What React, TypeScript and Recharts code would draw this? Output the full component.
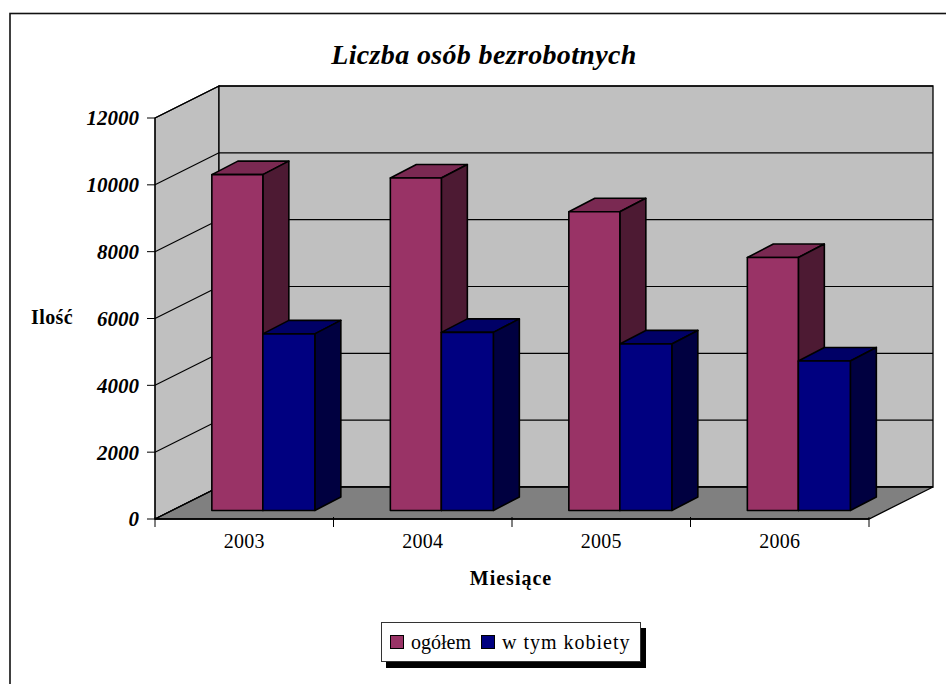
import { BarChart, Bar, XAxis, YAxis, CartesianGrid, Legend } from "recharts";

const years = ["2003", "2004", "2005", "2006"];
const totalValues = [10050, 9950, 8940, 7570];
const womenValues = [5285, 5330, 4985, 4475];
const yTicks = [0, 2000, 4000, 6000, 8000, 10000, 12000];

const chartData = years.map((year, i) => ({
  year,
  total: totalValues[i],
  women: womenValues[i],
}));

const serif = "'Liberation Serif', 'Times New Roman', serif";

// depth of the back wall and of the bars, and how far bars sit from the front edge
const WALL_DX = 64;
const WALL_DY = 32;
const BAR_DX = 26;
const BAR_DY = 13.5;
const BAR_OFFSET_X = 19;
const BAR_OFFSET_Y = 8.5;

function WallShapes(props: any) {
  const { x, y, width, height, index } = props;
  if (index !== 0) return <g />;
  const bottom = y + height;
  const right = x + width;
  const pts = (list: number[][]) => list.map((p) => p.join(",")).join(" ");
  return (
    <g stroke="#000" strokeWidth={1.3}>
      <polygon
        fill="#C0C0C0"
        points={pts([
          [x, y],
          [x + WALL_DX, y - WALL_DY],
          [x + WALL_DX, bottom - WALL_DY],
          [x, bottom],
        ])}
      />
      <polygon
        fill="#C0C0C0"
        points={pts([
          [x + WALL_DX, y - WALL_DY],
          [right + WALL_DX, y - WALL_DY],
          [right + WALL_DX, bottom - WALL_DY],
          [x + WALL_DX, bottom - WALL_DY],
        ])}
      />
      <polygon
        fill="#808080"
        points={pts([
          [x, bottom],
          [x + WALL_DX, bottom - WALL_DY],
          [right + WALL_DX, bottom - WALL_DY],
          [right, bottom],
        ])}
      />
    </g>
  );
}

function WallGridLine(props: any) {
  const { x1, x2, y1 } = props;
  return (
    <g stroke="#000" strokeWidth={1.1}>
      <line x1={x1} y1={y1} x2={x1 + WALL_DX} y2={y1 - WALL_DY} />
      <line x1={x1 + WALL_DX} y1={y1 - WALL_DY} x2={x2 + WALL_DX} y2={y1 - WALL_DY} />
    </g>
  );
}

function Bar3D(props: any) {
  const { x, y, width, height, fill, topFill, sideFill, extraWidth = 0 } = props;
  const left = x + BAR_OFFSET_X;
  const top = y - BAR_OFFSET_Y;
  const right = left + width + extraWidth;
  const bottom = top + height;
  return (
    <g stroke="#000" strokeWidth={1.6} strokeLinejoin="round">
      <polygon
        fill={topFill}
        points={`${left},${top} ${left + BAR_DX},${top - BAR_DY} ${right + BAR_DX},${top - BAR_DY} ${right},${top}`}
      />
      <polygon
        fill={sideFill}
        points={`${right},${top} ${right + BAR_DX},${top - BAR_DY} ${right + BAR_DX},${bottom - BAR_DY} ${right},${bottom}`}
      />
      <rect x={left} y={top} width={right - left} height={height} fill={fill} />
    </g>
  );
}

function YearTick(props: any) {
  const { x, y, payload, index } = props;
  const band = 178.5;
  return (
    <g>
      <line x1={x - band / 2} y1={y - 10} x2={x - band / 2} y2={y} stroke="#000" strokeWidth={1} />
      {index === years.length - 1 && (
        <line x1={x + band / 2} y1={y - 10} x2={x + band / 2} y2={y} stroke="#000" strokeWidth={1} />
      )}
      <text
        x={x}
        y={y + 21}
        textAnchor="middle"
        fontFamily={serif}
        fontSize={20}
        letterSpacing={0.3}
        fill="#000"
      >
        {payload.value}
      </text>
    </g>
  );
}

function LegendBox({ payload }: any) {
  return (
    <div
      style={{
        boxSizing: "border-box",
        width: 260,
        height: 40,
        background: "#fff",
        border: "1px solid #333",
        boxShadow: "5px 6px 0 #000",
        display: "flex",
        alignItems: "center",
        paddingLeft: 8,
        fontFamily: serif,
        fontSize: 20,
        color: "#000",
      }}
    >
      {(payload || []).map((entry: any, i: number) => (
        <span key={entry.value} style={{ display: "flex", alignItems: "center", marginLeft: i ? 10 : 0 }}>
          <span
            style={{
              display: "inline-block",
              boxSizing: "border-box",
              width: 14,
              height: 14,
              background: entry.color,
              border: "1px solid #000",
              marginRight: 7,
            }}
          />
          <span style={{ letterSpacing: i ? 1 : 0 }}>{entry.value}</span>
        </span>
      ))}
    </div>
  );
}

export default function App() {
  return (
    <div style={{ position: "absolute", left: 0, top: 0, width: 946, height: 684, overflow: "hidden", background: "#fff" }}>
      <BarChart
        width={946}
        height={684}
        data={chartData}
        margin={{ top: 118, right: 77, bottom: 135, left: 55 }}
        barCategoryGap="21.2%"
        barGap={0}
      >
        <rect x={10} y={13.5} width={1000} height={1000} fill="none" stroke="#111" strokeWidth={1.6} />
        <text
          x={484}
          y={64}
          textAnchor="middle"
          fontFamily={serif}
          fontSize={28}
          fontWeight="bold"
          fontStyle="italic"
          letterSpacing={0.35}
          fill="#000"
        >
          Liczba osób bezrobotnych
        </text>
        <text x={31} y={324} fontFamily={serif} fontSize={20} fontWeight="bold" letterSpacing={0.4} fill="#000">
          Ilość
        </text>
        <text x={511} y={585} textAnchor="middle" fontFamily={serif} fontSize={20} fontWeight="bold" letterSpacing={1} fill="#000">
          Miesiące
        </text>
        <CartesianGrid vertical={false} horizontal={(p: any) => <WallShapes {...p} />} />
        <CartesianGrid vertical={false} horizontal={(p: any) => <WallGridLine {...p} />} />
        <XAxis
          dataKey="year"
          height={30}
          tickLine={false}
          axisLine={{ stroke: "#000", strokeWidth: 1.3 }}
          tick={<YearTick />}
          interval={0}
        />
        <YAxis
          width={100}
          domain={[0, 12000]}
          ticks={yTicks}
          tickSize={8}
          tickMargin={8}
          axisLine={{ stroke: "#000", strokeWidth: 1 }}
          tickLine={{ stroke: "#000", strokeWidth: 1 }}
          tick={{ fontFamily: serif, fontSize: 21, fontWeight: "bold", fontStyle: "italic", fill: "#000" }}
        />
        <Legend
          layout="horizontal"
          verticalAlign="middle"
          wrapperStyle={{ position: "absolute", left: 381, top: 622, width: 260, height: 40 }}
          content={<LegendBox />}
        />
        <Bar
          dataKey="total"
          name="ogółem"
          fill="#993366"
          isAnimationActive={false}
          shape={(p: any) => <Bar3D {...p} topFill="#7A2952" sideFill="#4D1A33" />}
        />
        <Bar
          dataKey="women"
          name="w tym kobiety"
          fill="#000080"
          isAnimationActive={false}
          shape={(p: any) => <Bar3D {...p} extraWidth={1} topFill="#000066" sideFill="#000040" />}
        />
      </BarChart>
    </div>
  );
}
